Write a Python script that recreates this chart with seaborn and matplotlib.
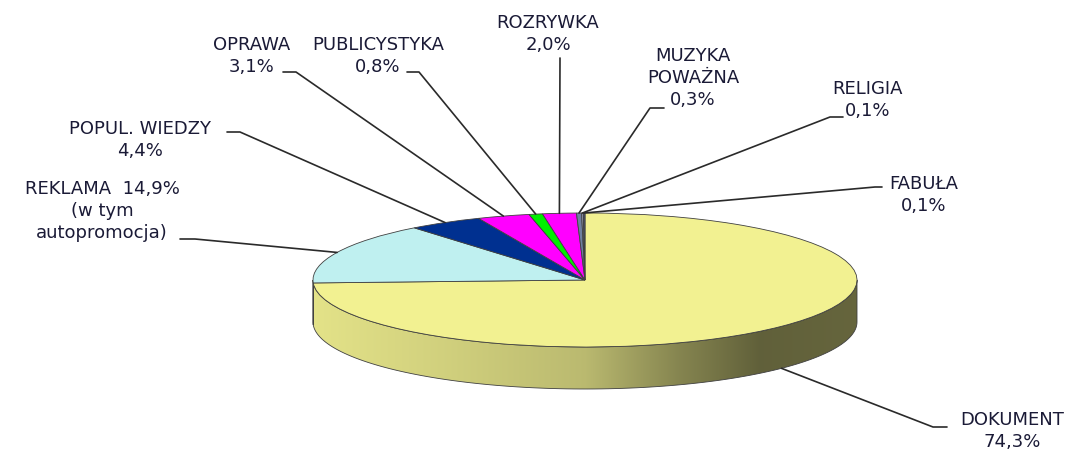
import numpy as np
import seaborn as sns
import matplotlib.pyplot as plt
from matplotlib.patches import Wedge, Polygon
from matplotlib.transforms import Affine2D

sns.set_theme(style='white')
plt.rcParams['font.family'] = ['DejaVu Sans']

# data (share of broadcast time, %), clockwise from 12 o'clock
names = ['DOKUMENT', 'REKLAMA', 'POPUL. WIEDZY', 'OPRAWA', 'PUBLICYSTYKA',
         'ROZRYWKA', 'MUZYKA\nPOWAŻNA', 'RELIGIA', 'FABUŁA']
values = [74.3, 14.9, 4.4, 3.1, 0.8, 2.0, 0.3, 0.1, 0.1]
colors = ['#F2F191', '#BFF0F0', '#003090', '#FF00FF', '#00F000',
          '#FF00FF', '#6F7FA0', '#9AA0B8', '#4A5070']

labels = []
for n, v in zip(names, values):
    pct = f'{v:.1f}%'.replace('.', ',')
    if n == 'REKLAMA':
        labels.append(f'{n}  {pct}\n(w tym\nautopromocja)')
    else:
        labels.append(f'{n}\n{pct}')

# layout (pixels): label centres and leader-line elbows / ends
label_xy = [(1012, 431), (102, 211), (140, 140), (252, 56), (378, 56),
            (548, 34), (693, 78), (868, 100), (924, 195)]
elbow_xy = [(933, 427), (195, 239), (240, 132), (296, 72), (419, 72),
            (560, 60), (650, 108), (830, 117), (875, 187)]
end_xy = [(947, 427), (180, 239), (227, 132), (283, 72), (407, 72),
          (560, 58), (664, 108), (843, 117), (882, 187)]

cx, cy, a, b, depth = 585, 280, 272, 67, 42

fig = plt.figure(figsize=(10.9, 4.51), dpi=100)
ax = fig.add_axes([0, 0, 1, 1])
ellipse = Affine2D().scale(a, -b).translate(cx, cy) + ax.transData


def shade(x):
    return np.interp(x, [313, 450, 585, 680, 760, 857],
                     [0.94, 0.86, 0.77, 0.55, 0.40, 0.42])


xs = np.linspace(cx - a, cx + a, 600)
cum = 0
mids = []
for v, c in zip(values, colors):
    t2 = 90 - cum * 3.6
    t1 = 90 - (cum + v) * 3.6
    cum += v
    mids.append((t1 + t2) / 2)

    # side wall, only the front half is visible
    lo, hi = max(t1, -180), min(t2, 0)
    if hi > lo:
        th = np.radians(np.linspace(lo, hi, 120))
        top = np.column_stack([cx + a * np.cos(th), cy - b * np.sin(th)])
        bot = top[::-1] + [0, depth]
        side = Polygon(np.vstack([top, bot]), closed=True, fc='none',
                       ec='#404040', lw=0.6, zorder=2)
        ax.add_patch(side)
        rgb = np.array(plt.matplotlib.colors.to_rgb(c))
        grad = (shade(xs)[:, None] * rgb)[None, :, :]
        im = ax.imshow(grad, extent=[cx - a, cx + a, cy + b + depth, cy],
                       aspect='auto', zorder=1)
        im.set_clip_path(side)

    ax.add_patch(Wedge((0, 0), 1, t1, t2, fc=c, ec='#404040', lw=0.6,
                       transform=ellipse, zorder=3))

# leader lines + labels
for i, lab in enumerate(labels):
    th = np.radians(mids[i])
    ax_, ay_ = cx + a * np.cos(th), cy - b * np.sin(th)
    if np.sin(th) < 0:
        ay_ += depth
    ex, ey = elbow_xy[i]
    fx, fy = end_xy[i]
    ax.plot([ax_, ex, fx], [ay_, ey, fy], color='#2A2A2A', lw=1.2, zorder=4)
    ax.text(label_xy[i][0], label_xy[i][1], lab, ha='center', va='center',
            multialignment='center', fontsize=13, color='#1A1A36',
            linespacing=1.3, zorder=5)

ax.set_xlim(0, 1090)
ax.set_ylim(451, 0)
ax.axis('off')
fig.savefig('out.png', dpi=100)
